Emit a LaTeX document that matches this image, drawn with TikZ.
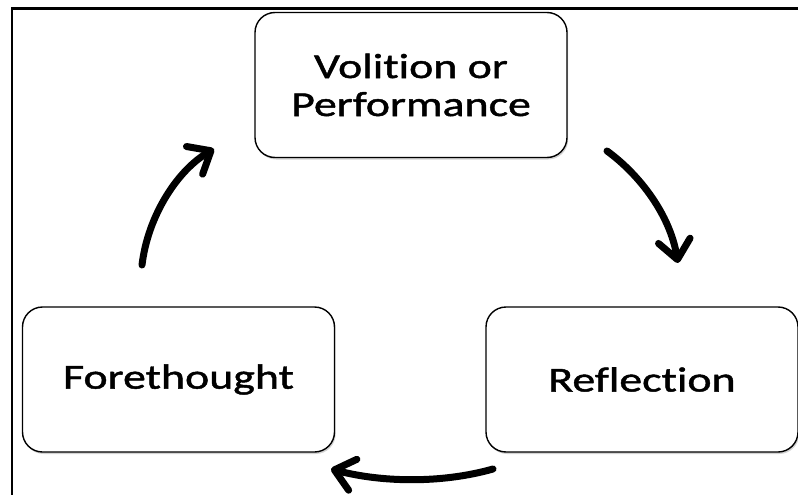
\documentclass[tikz,border=0pt]{standalone}
\usepackage{fontspec}
\newfontfamily\phasefont[FakeStretch=1.31,FakeBold=1.3,Ligatures=NoCommon]{Carlito}
\usetikzlibrary{arrows.meta,shadows}
\tikzset{
  phase/.style={draw=black,line width=1.4pt,rounded corners=20pt,fill=white,
    minimum width=312pt,minimum height=145pt,inner sep=0pt,align=center,
    font=\phasefont\fontsize{35}{38}\selectfont,
    drop shadow={shadow xshift=1.2pt,shadow yshift=-2pt,opacity=0.35}},
  cyc/.style={-{Straight Barb[length=19pt,width=32pt,round]},line width=7pt,line cap=round},
  frame/.style={line width=2.2pt},
}
\begin{document}
\begin{tikzpicture}[x=1pt,y=-1pt]
\useasboundingbox (0,0) rectangle (798,495);
\draw[frame] (12,495) -- (12,8.5) -- (798,8.5);
% the three phases
\node[phase] (vol) at (411,85) {Volition or\\Performance};
\node[phase] (fore) at (178.5,379.5) {Forethought};
\node[phase] (refl) at (642,379.5) {Reflection};
% cycle arrows
\coordinate (fvs) at (142,265); \coordinate (fvt) at (214,149);
\coordinate (vrs) at (607,151); \coordinate (vrt) at (678,263);
\coordinate (rfs) at (493,469); \coordinate (rft) at (331,469);
\draw[cyc] (fvs) .. controls (148,215) and (178,170) .. (fvt);
\draw[cyc] (vrs) .. controls (640,175) and (670,215) .. (vrt);
\draw[cyc] (rfs) .. controls (440,484) and (380,482) .. (rft);
\end{tikzpicture}
\end{document}
